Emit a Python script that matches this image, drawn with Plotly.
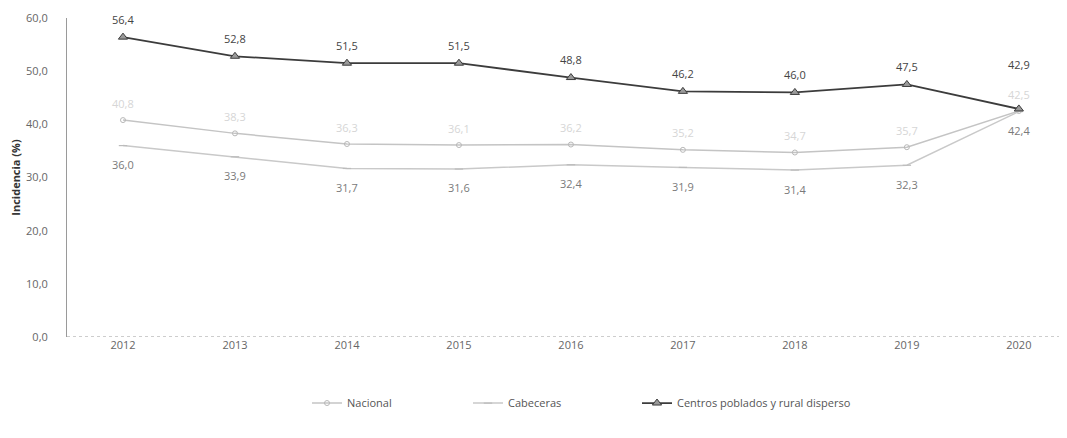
import plotly.graph_objects as go

years = ["2012", "2013", "2014", "2015", "2016", "2017", "2018", "2019", "2020"]
nacional = [40.8, 38.3, 36.3, 36.1, 36.2, 35.2, 34.7, 35.7, 42.5]
cabeceras = [36.0, 33.9, 31.7, 31.6, 32.4, 31.9, 31.4, 32.3, 42.4]
centros = [56.4, 52.8, 51.5, 51.5, 48.8, 46.2, 46.0, 47.5, 42.9]
y_ticks = [0, 10, 20, 30, 40, 50, 60]

FONT = "Open Sans"

fig = go.Figure()
fig.add_trace(go.Scatter(
    x=years, y=nacional, name="Nacional", mode="lines+markers", legend="legend",
    line=dict(color="#c4c4c4", width=1.5),
    marker=dict(symbol="circle-open", size=5, color="#b8b8b8", line=dict(width=1)),
))
fig.add_trace(go.Scatter(
    x=years, y=cabeceras, name="Cabeceras", mode="lines+markers", legend="legend2",
    line=dict(color="#c9c9c9", width=1.5),
    marker=dict(symbol="line-ew-open", size=6, color="#bcbcbc", line=dict(width=1.2, color="#bcbcbc")),
))
fig.add_trace(go.Scatter(
    x=years, y=centros, name="Centros poblados y rural disperso", mode="lines+markers", legend="legend3",
    line=dict(color="#3c3c3c", width=1.8),
    marker=dict(symbol="triangle-up", size=8, color="#9a9a9a", line=dict(width=1, color="#3c3c3c")),
))

def fmt(v):
    return f"{v:.1f}".replace(".", ",")

annotations = []
last = len(years) - 1
for i, v in enumerate(centros):
    annotations.append(dict(x=i, y=v, xref="x", yref="y", text=fmt(v), showarrow=False,
                            yshift=44 if i == last else 18,
                            font=dict(family=FONT, size=11, color="#444444")))
for i, v in enumerate(nacional):
    annotations.append(dict(x=i, y=v, xref="x", yref="y", text=fmt(v), showarrow=False,
                            yshift=17, font=dict(family=FONT, size=11, color="#d6d6d6")))
for i, v in enumerate(cabeceras):
    annotations.append(dict(x=i, y=v, xref="x", yref="y", text=fmt(v), showarrow=False,
                            yshift=-19, font=dict(family=FONT, size=11, color="#7a7a7a")))

leg_common = dict(orientation="h", y=-0.207, yanchor="middle", xanchor="left",
                  font=dict(family=FONT, size=11, color="#555555"),
                  itemwidth=30, bgcolor="rgba(0,0,0,0)")
fig.update_layout(
    width=1067, height=438,
    margin=dict(l=59, r=8, t=10, b=109, autoexpand=False),
    paper_bgcolor="white", plot_bgcolor="white",
    font=dict(family=FONT, size=11, color="#555555"),
    separators=",.",
    showlegend=True,
    legend=dict(leg_common, x=0.240),
    legend2=dict(leg_common, x=0.401),
    legend3=dict(leg_common, x=0.570),
    annotations=annotations,
    shapes=[dict(type="line", xref="paper", yref="y", x0=0, x1=1, y0=0, y1=0,
                 line=dict(color="#9a9a9a", width=1, dash="dot"))],
)
fig.update_xaxes(
    type="category", range=[-0.5, 8.43],
    showline=False,
    showgrid=False, ticks="", zeroline=False, automargin=False,
    tickfont=dict(family=FONT, size=11, color="#666666"),
)
fig.update_yaxes(
    range=[0, 60], tickvals=y_ticks, tickformat=".1f",
    showline=True, linecolor="#9a9a9a", linewidth=1,
    showgrid=False, zeroline=False, ticks="", automargin=False,
    ticklabelstandoff=16,
    tickfont=dict(family=FONT, size=11, color="#666666"),
    title=dict(text="<b>Incidencia (%)</b>", standoff=10,
               font=dict(family=FONT, size=11, color="#333333")),
)

fig.write_html("out.html")
